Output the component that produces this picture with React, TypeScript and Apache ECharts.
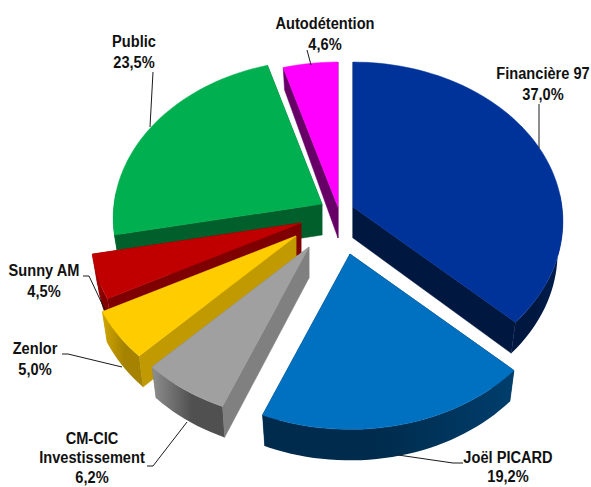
import React, { useEffect, useRef } from "react";
import * as echarts from "echarts";

const names = ["Financière 97", "Joël PICARD", "CM-CIC\nInvestissement", "Zenlor", "Sunny AM", "Public", "Autodétention"];
const values = [37.0, 19.2, 6.2, 5.0, 4.5, 23.5, 4.6];
const valueLabels = ["37,0%", "19,2%", "6,2%", "5,0%", "4,5%", "23,5%", "4,6%"];

// Layout and styling (same order as the slices)
const apexes = [[353, 207], [350, 254], [309, 247], [296, 236], [301, 223], [322, 204], [338, 207]];
const radiusScales = [1, 1.01, 1, 1, 1, 0.995, 1];
const topColors = ["#00339A", "#0070C0", "#A0A0A0", "#FFCC00", "#C00000", "#00B050", "#FF00FF"];
const faceColors = ["#001840", "#002F55", "#808080", "#C09A00", "#7F0000", "#005F2B", "#660066"];
const wallColors = [
  ["#001E50", "#001840"], ["#003E6C", "#002B4C"], ["#8E8E8E", "#505050"], ["#D0A600", "#A58200"],
  ["#C00000", "#800000"], ["#006A30", "#005F2B"], ["#660066", "#660066"],
];
const labelPos = [[543, 84], [508, 466.5], [92, 457.5], [35, 359], [44, 281], [134, 52], [325, 34]];
const labelLineHeights = [21, 19, 19.5, 21, 21, 21, 21];
const leaders = [
  [[539, 104], [539, 148]],
  [[463, 463], [453, 463], [398, 455]],
  [[147, 466], [153, 466], [187, 422]],
  [[62, 354], [68, 354], [122, 367]],
  [[83, 276], [89, 276], [105, 310]],
  [[153, 72], [150, 127]],
  [[307, 50], [311, 65]],
];
const drawOrder = [6, 5, 0, 4, 3, 2, 1];

const RX = 209, RY = 158, K = 0.09, DEPTH = 31, STEP = 2;
const total = values.reduce((a, b) => a + b, 0);
const startAngles: number[] = [];
values.reduce((acc, v, i) => {
  startAngles[i] = (acc / total) * 360;
  return acc + v;
}, 0);

function project(theta: number, scale: number) {
  const t = (theta * Math.PI) / 180;
  const X = Math.sin(t), Z = Math.cos(t);
  const s = 1 / (1 + K * Z);
  return { dx: scale * RX * X * s, dy: -scale * RY * Z * s, s };
}
function topPoint(a: number[], theta: number, scale: number) {
  const p = project(theta, scale);
  return [a[0] + p.dx, a[1] + p.dy];
}
function bottomPoint(a: number[], theta: number, scale: number) {
  const p = project(theta, scale);
  const d = DEPTH * Math.min(1, Math.pow(p.s, 4));
  return [a[0] + p.dx * 0.975, a[1] + p.dy + d];
}
function range(a: number, b: number) {
  const out: number[] = [];
  for (let t = a; t < b; t += STEP) out.push(t);
  out.push(b);
  return out;
}

function renderItem(params: any, api: any) {
  const idx = drawOrder[params.dataIndex];
  const start = startAngles[idx];
  const end = start + (api.value(0) / total) * 360;
  const a = apexes[idx];
  const k = radiusScales[idx];
  const a2 = [a[0], a[1] + DEPTH];
  const arc = range(start, end);
  const children: any[] = [];
  const poly = (points: number[][], fill: any, stroke?: string) => ({
    type: "polygon",
    shape: { points },
    style: { fill, stroke: stroke || "none", lineWidth: stroke ? 0.5 : 0 },
    silent: true,
  });
  children.push(poly([a, topPoint(a, start, k), bottomPoint(a, start, k), a2], faceColors[idx], faceColors[idx]));
  children.push(poly([a, topPoint(a, end, k), bottomPoint(a, end, k), a2], faceColors[idx], faceColors[idx]));
  const ws = Math.max(start, 85), we = Math.min(end, 275);
  if (we > ws) {
    const wr = range(ws, we);
    const pts = wr.map((t) => topPoint(a, t, k)).concat(wr.slice().reverse().map((t) => bottomPoint(a, t, k)));
    const isFlip = (ws + we) / 2 > 180;
    const c = wallColors[idx];
    children.push(poly(pts, new echarts.graphic.LinearGradient(isFlip ? 0 : 1, 0, isFlip ? 1 : 0, 0, [
      { offset: 0, color: c[0] }, { offset: 0.55, color: c[1] }, { offset: 1, color: c[1] },
    ])));
  }
  children.push(poly([a, ...arc.map((t) => topPoint(a, t, k))], topColors[idx], topColors[idx]));
  return { type: "group", children };
}

export default function App() {
  const ref = useRef<HTMLDivElement>(null);
  useEffect(() => {
    const chart = echarts.init(ref.current!, undefined, { renderer: "svg" });
    const graphic: any[] = [];
    leaders.forEach((pts) => {
      graphic.push({
        type: "polyline", z: 10, silent: true,
        shape: { points: pts },
        style: { stroke: "#1a1a1a", lineWidth: 1, fill: "none" },
      });
    });
    names.forEach((n, i) => {
      graphic.push({
        type: "text", z: 11, silent: true, x: labelPos[i][0], y: labelPos[i][1], scaleX: 0.86,
        style: {
          text: n + "\n" + valueLabels[i],
          fill: "#111111",
          font: 'bold 17px "Liberation Sans"',
          lineHeight: labelLineHeights[i],
          align: "center",
          verticalAlign: "middle",
        },
      });
    });
    chart.setOption({
      animation: false,
      backgroundColor: "#ffffff",
      graphic,
      series: [{
        type: "custom",
        coordinateSystem: "none",
        renderItem,
        silent: true,
        data: drawOrder.map((i) => ({ name: names[i].replace("\n", " "), value: [values[i]] })),
      }],
    });
    return () => chart.dispose();
  }, []);
  return <div ref={ref} style={{ position: "fixed", left: 0, top: 0, width: 591, height: 487 }} />;
}
